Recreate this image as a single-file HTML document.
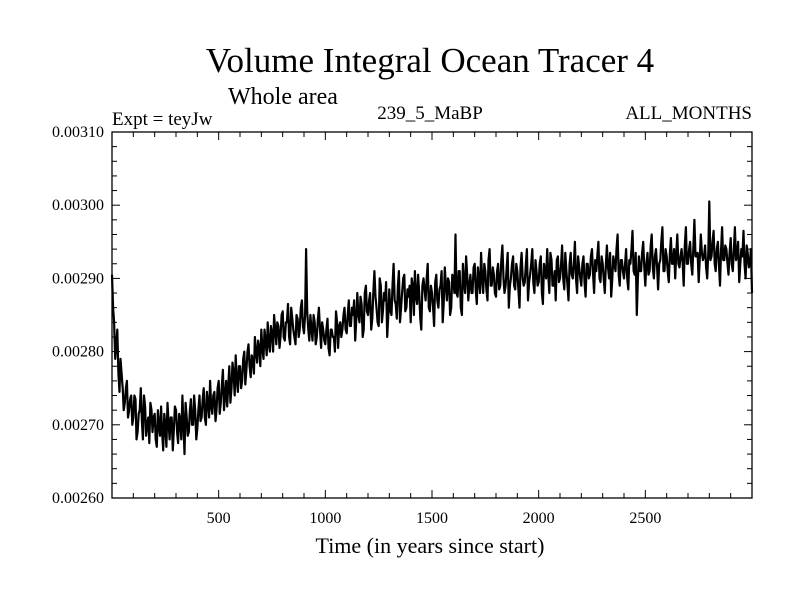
<!DOCTYPE html>
<html><head><meta charset="utf-8"><style>
body{margin:0;background:#fff}
svg{display:block}
text{font-family:"Liberation Serif",serif;fill:#000}
</style></head><body>
<svg id="chart" width="800" height="600" viewBox="0 0 800 600">
<rect width="800" height="600" fill="#fff"/>
<text x="430" y="72" font-size="35" text-anchor="middle">Volume Integral Ocean Tracer 4</text>
<text x="228" y="104" font-size="24">Whole area</text>
<text x="112" y="125" font-size="19">Expt = teyJw</text>
<text x="430" y="119" font-size="19" text-anchor="middle">239_5_MaBP</text>
<text x="752" y="119" font-size="19" text-anchor="end">ALL_MONTHS</text>
<g id="axes"></g>
<path id="series" fill="none" stroke="#000" stroke-width="2.2" stroke-linejoin="round"/>
<rect x="112" y="132" width="640" height="366" fill="none" stroke="#000" stroke-width="1.3"/>
<text x="430" y="553" font-size="22" text-anchor="middle">Time (in years since start)</text>
</svg>
<script>
const xTicks=[500,1000,1500,2000,2500];
const yTicks=[0.0026,0.0027,0.0028,0.0029,0.0030,0.0031];
const yTickLabels=["0.00260","0.00270","0.00280","0.00290","0.00300","0.00310"];
const startYear=0, stepYears=10;
// values in units of 1e-5, at years 0,10,20,...
const values=[
290.5,284,281,277,279,275,273,276,272,274,
271,273.5,269,272,270.5,274,268.5,271,273,269,
271.5,267,270,272.5,266.5,270,273,268,271,269.5,
272,267.5,270.5,274,266,271,269,273.5,270,272,
269.5,274,271,275,270,273,276,271.5,274.5,272,
276,273,277.5,274,272.5,278,275,277,279.5,274.5,
278,276,280,277.5,281,276.5,279,282,278.5,280.5,
283,279,281.5,284,280,282.5,285,281,283.5,282,
285.5,281.5,284,282,286,283,281,284.5,283,287,
282.5,294,283,285,281.5,284,282,286,280.5,283,
281,284.5,279.5,283,282,285.5,280.5,284,283,286,
282.5,287,283.5,285,281.5,288,284,286.5,283,289,
285,288,284.5,291,286,283.5,289,285.5,287,282,
288.5,285,292,286.5,289,284,288,290.5,286,287.5,
284,289,291,286.5,288,283,290,287,292,285.5,
288,283.5,290.5,286,289,284,291.5,287,289.5,286,
290,296,287.5,291,285,289.5,293,287,290.5,288,
292,286.5,290,293.5,288,291,287,294,289,290.5,
287.5,292,289,294.5,288,291.5,286,290,293,288.5,
291,286,293.5,289,292,287,290.5,294,288,291,
289.5,293,286.5,291,294,288,292.5,289,287,293,
290,294.5,288.5,291,287,293.5,290,295,288,291.5,
289,293,287.5,292,290.5,294,288,291,295,289.5,
292,288,294.5,290,287.5,293,291,296,289,292.5,
290,294,288.5,292,296.5,290.5,285,293,291,295,
289,293.5,291,296,290,294,288.5,292.5,297,291,
293,289.5,295.5,292,290,296,291.5,294,289,297,
292,295,290.5,298,293,289.5,296,292.5,294.5,290,
300.5,293,296.5,291,295,289,297,292.5,294,290.5,
295.5,291,297,293,289.5,294,296.5,290,293.5,292,
288];
// values in units of 1e-5, at years 5,15,25,...
const valuesMid=[
286,279,283,274.5,277,272,275,271,273.5,270,
274,268,271.5,275,268,272.5,270,267.5,272,271,
268,272,268.5,269,271.5,267,270.5,271,266.5,272.5,
269,271.5,268,270,273,268.5,272,270,274,268,
272,270.5,273.5,271,274.5,271,272.5,274,270.5,275,
271.5,275.5,272,276,275.5,273,278.5,274,276,278,
275,279,275.5,280,278,279.5,277,280,281.5,278,
280.5,283,279.5,281,283.5,280,283,284,280.5,285,
282,284,286.5,281,284.5,282,285,282,286,283.5,
285,285.5,281.5,283,285,281,284.5,283,284,281.5,
283,280.5,283,282,280,284,283.5,282,285,283,
285,283.5,286,287,284.5,285,287.5,282,288,285.5,
287,283,288,287.5,284,290,284,288,289.5,285,
285.5,289,287,284.5,291,286,290,285.5,288.5,289,
290,285,287.5,290.5,284.5,289,288.5,290,286,289,
286,289.5,287,288.5,291,286.5,289,290,285,290.5,
288,288,291,286,292,288,290.5,289,288,291.5,
288.5,291.5,288,290,292,288.5,292.5,289,291.5,288,
291,288.5,292.5,290,289,293.5,289,292,289,292,
288.5,291.5,290,289.5,294,289.5,292,289.5,292.5,289,
292,288,292,290,290.5,293.5,289,291,292.5,289.5,
292,290,293.5,289,292,290.5,292,290,293,290,
292,289.5,292,290,293,290.5,292.5,293,290,293,
290,292,291.5,293.5,290,292,294,290.5,292.5,291,
292,290,292.5,294,291,293.5,290,291,293.5,291.5,
292,290.5,294.5,291.5,293,291.5,292,295,291,294,
291,293.5,292,294,293.5,292,293,292,294.5,292,
294,292,294,293,293.5,292.5,293.5,293,291.5,293.5,
292.5,295,292,294,292,294,292.5,294.5,292,293.5,
292,294,292.5,295,292,293,292,294.5,291.5,294];
const NS="http://www.w3.org/2000/svg";
const X0=112,X1=752,Y0=498,Y1=132,T0=0,T1=3000,V0=0.0026,V1=0.0031;
function xs(t){return X0+(t-T0)/(T1-T0)*(X1-X0);}
function ys(v){return Y0-(v-V0)/(V1-V0)*(Y0-Y1);}
const g=document.getElementById('axes');
function line(x1,y1,x2,y2,name){const l=document.createElementNS(NS,'line');
l.setAttribute('x1',x1);l.setAttribute('y1',y1);l.setAttribute('x2',x2);l.setAttribute('y2',y2);
l.setAttribute('stroke','#000');l.setAttribute('stroke-width','1');


g.appendChild(l);}
function txt(x,y,s,anchor,name){const t=document.createElementNS(NS,'text');
t.setAttribute('x',x);t.setAttribute('y',y);t.setAttribute('font-size','16');t.setAttribute('text-anchor',anchor);t.textContent=s;


g.appendChild(t);}
for(let t=100;t<3000;t+=100){const x=xs(t);const major=t%500===0;const L=major?8:5;
line(x,Y0,x,Y0-L,'x-tick');line(x,Y1,x,Y1+L,'x-tick-top');}
xTicks.forEach(t=>txt(xs(t),523,String(t),'middle','x-tick-label'));
for(let i=0;i<=25;i++){const v=V0+i*0.00002;const y=ys(v);const major=i%5===0;const L=major?8:5;
line(X0,y,X0+L,y,'y-tick');line(X1,y,X1-L,y,'y-tick-right');}
yTicks.forEach((v,i)=>txt(104,ys(v)+5,yTickLabels[i],'end','y-tick-label'));
const pts=[];
values.forEach((v,i)=>{pts.push([startYear+i*stepYears,v]);if(i<valuesMid.length)pts.push([startYear+i*stepYears+stepYears/2,valuesMid[i]]);});
let d='';pts.forEach((p,i)=>{d+=(i?'L':'M')+xs(p[0]).toFixed(1)+','+ys(p[1]*1e-5).toFixed(1);});
document.getElementById('series').setAttribute('d',d);
</script>
</body></html>
